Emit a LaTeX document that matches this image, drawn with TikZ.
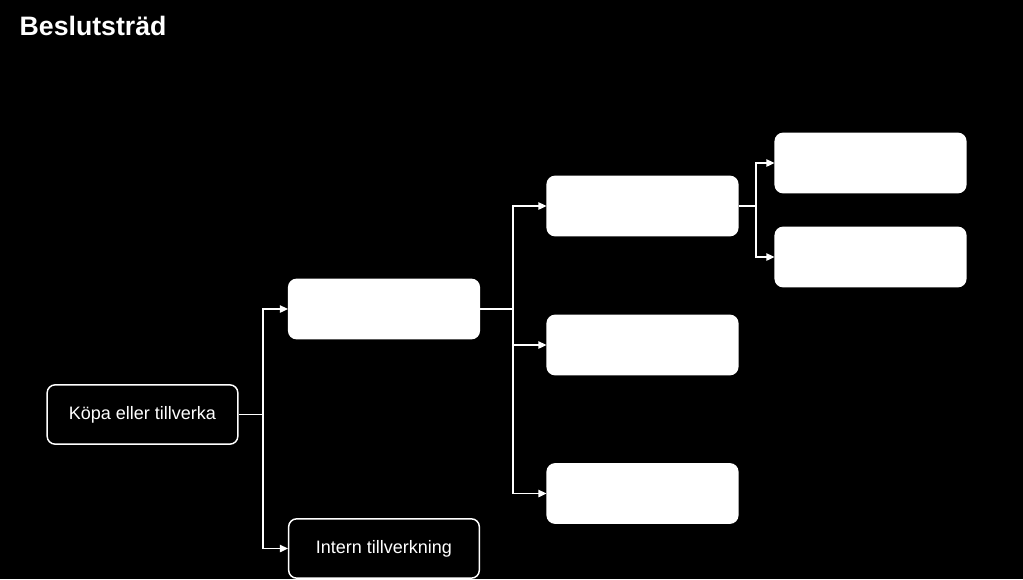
\documentclass[tikz,border=0pt]{standalone}
\usepackage{fontspec}
\setmainfont{Liberation Sans}
\usetikzlibrary{arrows.meta,positioning}

\begin{document}
\begin{tikzpicture}[x=0.75pt,y=-0.75pt,
  outlinebox/.style={draw=white,fill=black,text=white,line width=1.1pt,rounded corners=6pt,minimum width=143pt,minimum height=44.5pt,inner sep=0pt,font=\fontsize{13.5}{16}\selectfont},
  solidbox/.style={outlinebox,fill=white},
  link/.style={white,line width=1.1pt,-{Triangle[length=6pt,width=5.5pt]}},
  elbow/.style={to path={|- (\tikztotarget) \tikztonodes}}]
\fill[black] (0,0) rectangle (1023,579);
\useasboundingbox (0,0) rectangle (1023,579);
\node[anchor=base west,text=white,font=\bfseries\fontsize{20}{24}\selectfont] (title) at (15,35) {Beslutsträd};
% tree
\node[outlinebox] (root) at (142.5,414.5) {Köpa eller tillverka};
\node[solidbox] (buy) at (384,309) {};
\node[outlinebox] (intern) at (384,548.5) {Intern tillverkning};
\node[solidbox] (opt1) at (642.5,206) {};
\node[solidbox] (opt2) at (642.5,345) {};
\node[solidbox] (opt3) at (642.5,493.5) {};
\node[solidbox] (sub1) at (870.5,163) {};
\node[solidbox] (sub2) at (870.5,257) {};
\coordinate (j1) at (263,414.5);
\coordinate (j2) at (513,309);
\coordinate (j3) at (756,206);
\path[link]
(root) edge[-] (j1) (j1) edge[elbow] (buy) (j1) edge[elbow] (intern)
(buy) edge[-] (j2) (j2) edge[elbow] (opt1) (j2) edge[elbow] (opt2) (j2) edge[elbow] (opt3)
(opt1) edge[-] (j3) (j3) edge[elbow] (sub1) (j3) edge[elbow] (sub2)
;
\end{tikzpicture}
\end{document}
